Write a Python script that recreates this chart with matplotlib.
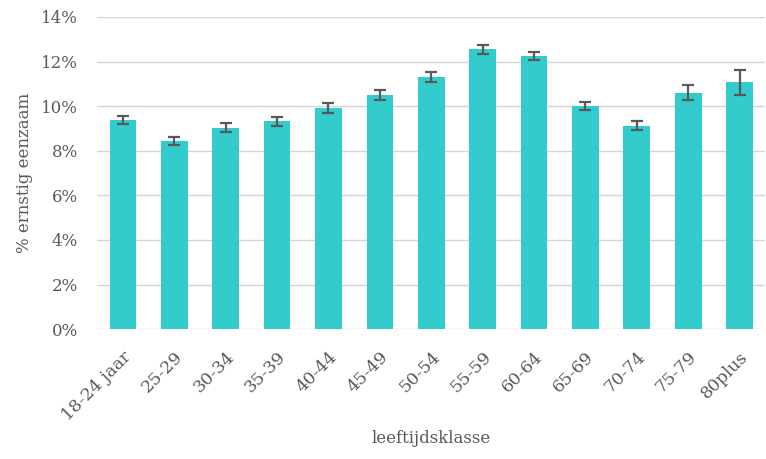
import matplotlib.pyplot as plt
from matplotlib.ticker import PercentFormatter

categories = ['18-24 jaar', '25-29', '30-34', '35-39', '40-44', '45-49', '50-54',
              '55-59', '60-64', '65-69', '70-74', '75-79', '80plus']
values = [9.38, 8.43, 9.03, 9.33, 9.93, 10.51, 11.31, 12.55, 12.25, 10.02, 9.12, 10.60, 11.07]
errors = [0.18, 0.18, 0.20, 0.20, 0.22, 0.22, 0.23, 0.21, 0.20, 0.18, 0.20, 0.33, 0.55]

plt.rcParams['font.family'] = ['DejaVu Serif']
text_color = '#595959'

fig = plt.figure(figsize=(7.66, 4.59), dpi=100)
ax = fig.add_axes([0.127, 0.283, 0.872, 0.68])

ax.bar(range(len(categories)), values, width=0.52, color='#33CCCC', zorder=2,
       yerr=errors, error_kw=dict(ecolor='#595959', elinewidth=1.6, capsize=4, capthick=1.6))

ax.set_xlim(-0.5, len(categories) - 0.5)
ax.set_ylim(0, 14)
ax.set_yticks(range(0, 15, 2))
ax.yaxis.set_major_formatter(PercentFormatter(decimals=0))
ax.grid(axis='y', color='#d4d4d4', linewidth=1.0, zorder=0)

for s in ax.spines.values():
    s.set_visible(False)

ax.set_xticks(range(len(categories)))
ax.set_xticklabels(categories, rotation=45, ha='right', rotation_mode='anchor')
ax.tick_params(axis='x', length=0, labelsize=12.5, colors=text_color, pad=14)
ax.tick_params(axis='y', length=0, labelsize=12, colors=text_color, pad=14)

ax.set_ylabel('% ernstig eenzaam', fontsize=12, color=text_color, labelpad=6)
ax.set_xlabel('leeftijdsklasse', fontsize=12, color=text_color, labelpad=4)

fig.savefig('out.png')
